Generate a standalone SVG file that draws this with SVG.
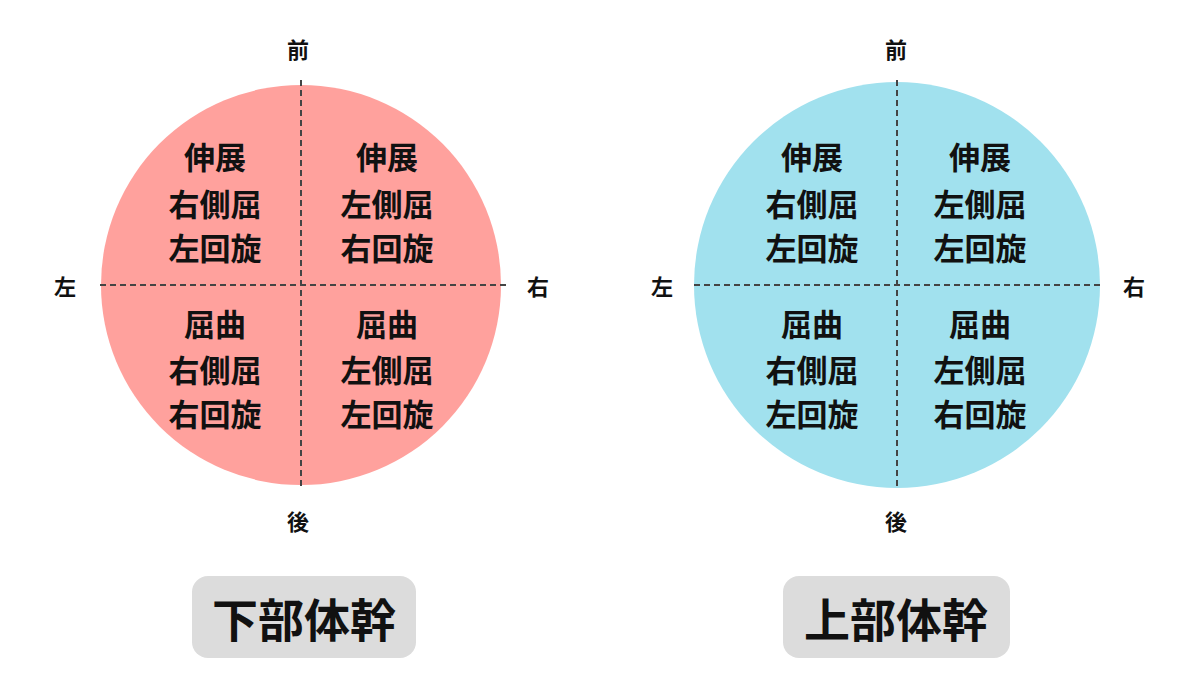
<svg xmlns="http://www.w3.org/2000/svg" width="1200" height="692" viewBox="0 0 1200 692">
<style>
text{font-family:"Noto Sans CJK JP","Noto Sans CJK SC",sans-serif;font-weight:700;fill:#111;text-anchor:middle;dominant-baseline:central}
.q{font-size:31px}
.d{font-size:22px}
.t{font-size:46px}
.ax{stroke:#444;stroke-width:2;stroke-dasharray:6 4;fill:none}
.lab{fill:#dcdcdc}
</style>
<rect width="1200" height="692" fill="#fff"/>
<g id="lower-trunk">
<circle cx="301" cy="285" r="200" fill="#FFA19D"/>
<text class="q" x="215" y="155">伸展</text><text class="q" x="215" y="202">右側屈</text><text class="q" x="215" y="246">左回旋</text>
<text class="q" x="387" y="155">伸展</text><text class="q" x="387" y="202">左側屈</text><text class="q" x="387" y="246">右回旋</text>
<text class="q" x="215" y="322">屈曲</text><text class="q" x="215" y="368">右側屈</text><text class="q" x="215" y="412">右回旋</text>
<text class="q" x="387" y="322">屈曲</text><text class="q" x="387" y="368">左側屈</text><text class="q" x="387" y="412">左回旋</text>
<text class="d" x="298" y="48">前</text><text class="d" x="298" y="520">後</text><text class="d" x="65" y="285">左</text><text class="d" x="538" y="285">右</text>
</g>
<g id="upper-trunk">
<circle cx="897" cy="285" r="203" fill="#A1E1EE"/>
<text class="q" x="812" y="155">伸展</text><text class="q" x="812" y="202">右側屈</text><text class="q" x="812" y="246">左回旋</text>
<text class="q" x="980" y="155">伸展</text><text class="q" x="980" y="202">左側屈</text><text class="q" x="980" y="246">左回旋</text>
<text class="q" x="812" y="322">屈曲</text><text class="q" x="812" y="368">右側屈</text><text class="q" x="812" y="412">左回旋</text>
<text class="q" x="980" y="322">屈曲</text><text class="q" x="980" y="368">左側屈</text><text class="q" x="980" y="412">右回旋</text>
<text class="d" x="896" y="48">前</text><text class="d" x="896" y="520">後</text><text class="d" x="662" y="285">左</text><text class="d" x="1134" y="285">右</text>
</g>
<g id="connectors">
<line class="ax" x1="100" y1="285" x2="506" y2="285"/><line class="ax" x1="301" y1="80" x2="301" y2="486"/>
<line class="ax" x1="694" y1="285" x2="1100" y2="285"/><line class="ax" x1="897" y1="80" x2="897" y2="486"/>
</g>
<g id="label-lower"><rect class="lab" x="192" y="576" width="224" height="82" rx="16"/><text class="t" x="304" y="617">下部体幹</text></g>
<g id="label-upper"><rect class="lab" x="783" y="576" width="227" height="82" rx="16"/><text class="t" x="896" y="617">上部体幹</text></g>
</svg>
